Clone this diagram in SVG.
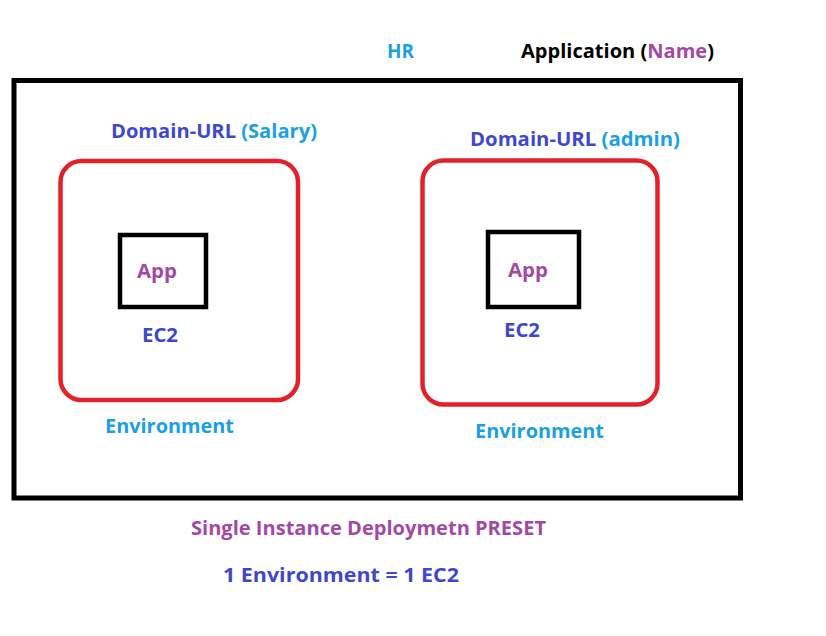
<svg xmlns="http://www.w3.org/2000/svg" width="826" height="636" viewBox="0 0 826 636">
<style>
text{font-family:"Open Sans","Noto Sans","Liberation Sans",sans-serif;font-weight:bold;font-size:20px}
.ind{fill:#3F48CC}.cyan{fill:#1BA1E2}.pur{fill:#A349A4}.blk{fill:#000}
.env{fill:none;stroke:#E3212B;stroke-width:4.5}
.box{fill:none;stroke:#000;stroke-width:4.5}
</style>
<rect width="826" height="636" fill="#fff"/>
<g id="application">
<rect x="14" y="80.5" width="726.5" height="417.5" fill="none" stroke="#000" stroke-width="5"/>
<text x="387" y="58" class="cyan" textLength="27" lengthAdjust="spacingAndGlyphs">HR</text>
<text x="521" y="58" class="blk" textLength="193" lengthAdjust="spacingAndGlyphs">Application (<tspan class="pur">Name</tspan>)</text>
</g>
<g id="env-salary">
<rect class="env" x="60.5" y="161" width="237.5" height="239" rx="21"/>
<text x="111" y="138" class="ind" textLength="206" lengthAdjust="spacingAndGlyphs">Domain-URL <tspan class="cyan">(Salary)</tspan></text>
<text x="105" y="433" class="cyan" textLength="129" lengthAdjust="spacingAndGlyphs">Environment</text>
</g>
<g id="ec2-salary">
<rect class="box" x="120" y="235" width="86" height="72"/>
<text x="137" y="278" class="pur" textLength="40" lengthAdjust="spacingAndGlyphs">App</text>
<text x="142" y="342" class="ind" textLength="36" lengthAdjust="spacingAndGlyphs">EC2</text>
</g>
<g id="env-admin">
<rect class="env" x="422.5" y="160.5" width="235" height="244" rx="21"/>
<text x="470" y="146" class="ind" textLength="210" lengthAdjust="spacingAndGlyphs">Domain-URL <tspan class="cyan">(admin)</tspan></text>
<text x="475" y="438" class="cyan" textLength="129" lengthAdjust="spacingAndGlyphs">Environment</text>
</g>
<g id="ec2-admin">
<rect class="box" x="488" y="232" width="91" height="75"/>
<text x="508" y="277" class="pur" textLength="40" lengthAdjust="spacingAndGlyphs">App</text>
<text x="504" y="337" class="ind" textLength="36" lengthAdjust="spacingAndGlyphs">EC2</text>
</g>
<g id="notes">
<text x="191" y="535" class="pur" textLength="355" lengthAdjust="spacingAndGlyphs">Single Instance Deploymetn PRESET</text>
<text x="223" y="582" class="ind" textLength="236" lengthAdjust="spacingAndGlyphs">1 Environment = 1 EC2</text>
</g>
<g id="connectors"></g>
</svg>
